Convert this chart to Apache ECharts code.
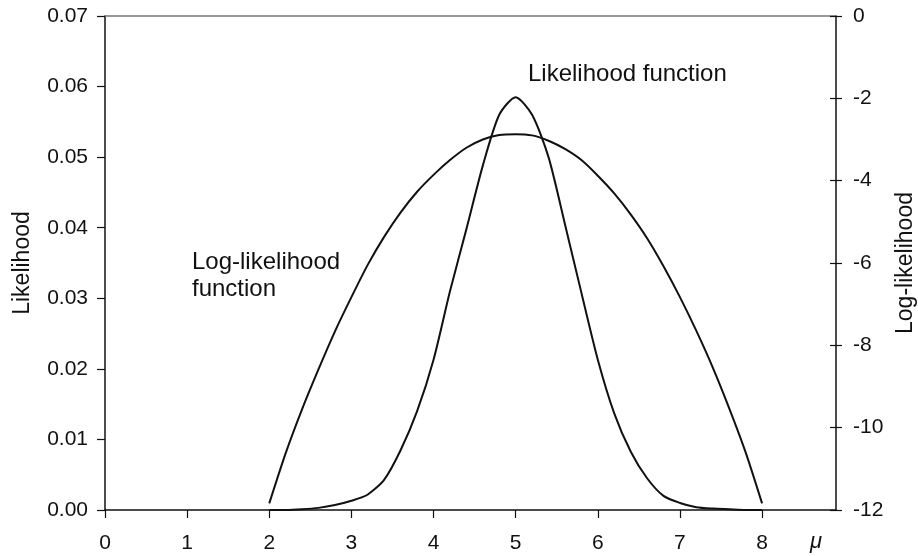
<!DOCTYPE html>
<html>
<head>
<meta charset="utf-8">
<script src="https://cdn.jsdelivr.net/npm/echarts@6/dist/echarts.min.js"></script>
<style>
  html, body { margin: 0; padding: 0; background: #fff; }
  #chart { width: 918px; height: 556px; }
</style>
</head>
<body>
<div id="chart"></div>
<script>
// Parameter grid (mu) and the two curves evaluated on it
const muValues = [2.0, 2.2, 2.4, 2.6, 2.8, 3.0, 3.2, 3.4, 3.6, 3.8, 4.0, 4.2, 4.4, 4.6, 4.8, 5.0,
                  5.2, 5.4, 5.6, 5.8, 6.0, 6.2, 6.4, 6.6, 6.8, 7.0, 7.2, 7.4, 7.6, 7.8, 8.0];
const likelihood = [0.0000, 0.0000, 0.0001, 0.0003, 0.0007, 0.0013, 0.0022, 0.0043, 0.0085, 0.0140,
                    0.0213, 0.0310, 0.0398, 0.0488, 0.0560, 0.0585, 0.0560, 0.0500, 0.0405, 0.0308,
                    0.0213, 0.0137, 0.0083, 0.0045, 0.0020, 0.0010, 0.0004, 0.0002, 0.0001, 0.0000, 0.0000];
const logLikelihood = [-11.84, -10.62, -9.55, -8.58, -7.66, -6.83, -6.04, -5.36, -4.77, -4.27,
                       -3.86, -3.50, -3.20, -3.00, -2.89, -2.87, -2.90, -3.03, -3.23, -3.50,
                       -3.88, -4.31, -4.82, -5.40, -6.08, -6.83, -7.65, -8.54, -9.53, -10.60, -11.84];
const xTickValues = [0, 1, 2, 3, 4, 5, 6, 7, 8];

const FONT = '"Liberation Sans", Arial, Helvetica, sans-serif';
const INK = '#111';
const GRID_BOX = { left: 105, right: 82, top: 16, bottom: 46, containLabel: false, outerBoundsMode: 'none' };

const chart = echarts.init(document.getElementById('chart'), null, { renderer: 'canvas' });

const likData = muValues.map((m, i) => [m, likelihood[i]]);
const logData = muValues.map((m, i) => [m, logLikelihood[i]]);

chart.setOption({
  animation: false,
  backgroundColor: '#fff',
  // second grid shares the plot box; it only carries the inner half of the right-hand ticks
  grid: [Object.assign({}, GRID_BOX), Object.assign({}, GRID_BOX)],
  xAxis: [
    {
      gridIndex: 0, type: 'value', position: 'bottom', min: 0, max: 8.9, interval: 1,
      axisLine: { show: true, onZero: false, lineStyle: { color: INK, width: 1.5 } },
      axisTick: { show: true, inside: false, length: 8, customValues: xTickValues,
                  lineStyle: { color: INK, width: 1.2 } },
      axisLabel: { show: true, margin: 23, customValues: xTickValues,
                   color: INK, fontFamily: FONT, fontSize: 21 },
      splitLine: { show: false }
    },
    {
      gridIndex: 0, type: 'value', position: 'top', min: 0, max: 8.9,
      axisLine: { show: true, onZero: false, lineStyle: { color: '#777', width: 1.5 } },
      axisTick: { show: false }, axisLabel: { show: false }, splitLine: { show: false }
    },
    {
      gridIndex: 1, type: 'value', min: 0, max: 8.9, show: false
    }
  ],
  yAxis: [
    {
      gridIndex: 0, type: 'value', position: 'left', min: 0, max: 0.07, interval: 0.01,
      name: 'Likelihood', nameLocation: 'middle', nameGap: 71, nameRotate: 90,
      nameTextStyle: { color: INK, fontFamily: FONT, fontSize: 23 },
      axisLine: { show: true, onZero: false, lineStyle: { color: INK, width: 1.5 } },
      axisTick: { show: true, inside: false, length: 8, lineStyle: { color: INK, width: 1.2 } },
      axisLabel: { margin: 17, color: INK, fontFamily: FONT, fontSize: 21,
                   formatter: v => v.toFixed(2) },
      splitLine: { show: false }
    },
    {
      gridIndex: 0, type: 'value', position: 'right', min: -12, max: 0, interval: 2,
      name: 'Log-likelihood', nameLocation: 'middle', nameGap: 58, nameRotate: 90,
      nameTextStyle: { color: INK, fontFamily: FONT, fontSize: 23 },
      axisLine: { show: true, onZero: false, lineStyle: { color: INK, width: 1.5 } },
      axisTick: { show: true, inside: false, length: 6, lineStyle: { color: INK, width: 1.2 } },
      axisLabel: { margin: 17, color: INK, fontFamily: FONT, fontSize: 21 },
      splitLine: { show: false }
    },
    {
      gridIndex: 1, type: 'value', position: 'right', min: -12, max: 0, interval: 2,
      axisLine: { show: false, onZero: false },
      axisTick: { show: true, inside: true, length: 6, lineStyle: { color: INK, width: 1.2 } },
      axisLabel: { show: false },
      splitLine: { show: false }
    }
  ],
  series: [
    {
      name: 'Likelihood function', type: 'line', xAxisIndex: 0, yAxisIndex: 0,
      data: likData, showSymbol: false, smooth: 0.25,
      lineStyle: { color: INK, width: 2 }
    },
    {
      name: 'Log-likelihood function', type: 'line', xAxisIndex: 0, yAxisIndex: 1,
      data: logData, showSymbol: false, smooth: 0.25,
      lineStyle: { color: INK, width: 2 }
    }
  ],
  graphic: [
    { type: 'text', left: 528, top: 62,
      style: { text: 'Likelihood function', fill: INK, font: '24px ' + FONT } },
    { type: 'text', left: 192, top: 249,
      style: { text: 'Log-likelihood\nfunction', fill: INK, font: '24px ' + FONT, lineHeight: 27 } },
    { type: 'text', left: 810, top: 531,
      style: { text: 'μ', fill: INK, font: 'italic 22px ' + FONT } }
  ]
});
</script>
</body>
</html>
